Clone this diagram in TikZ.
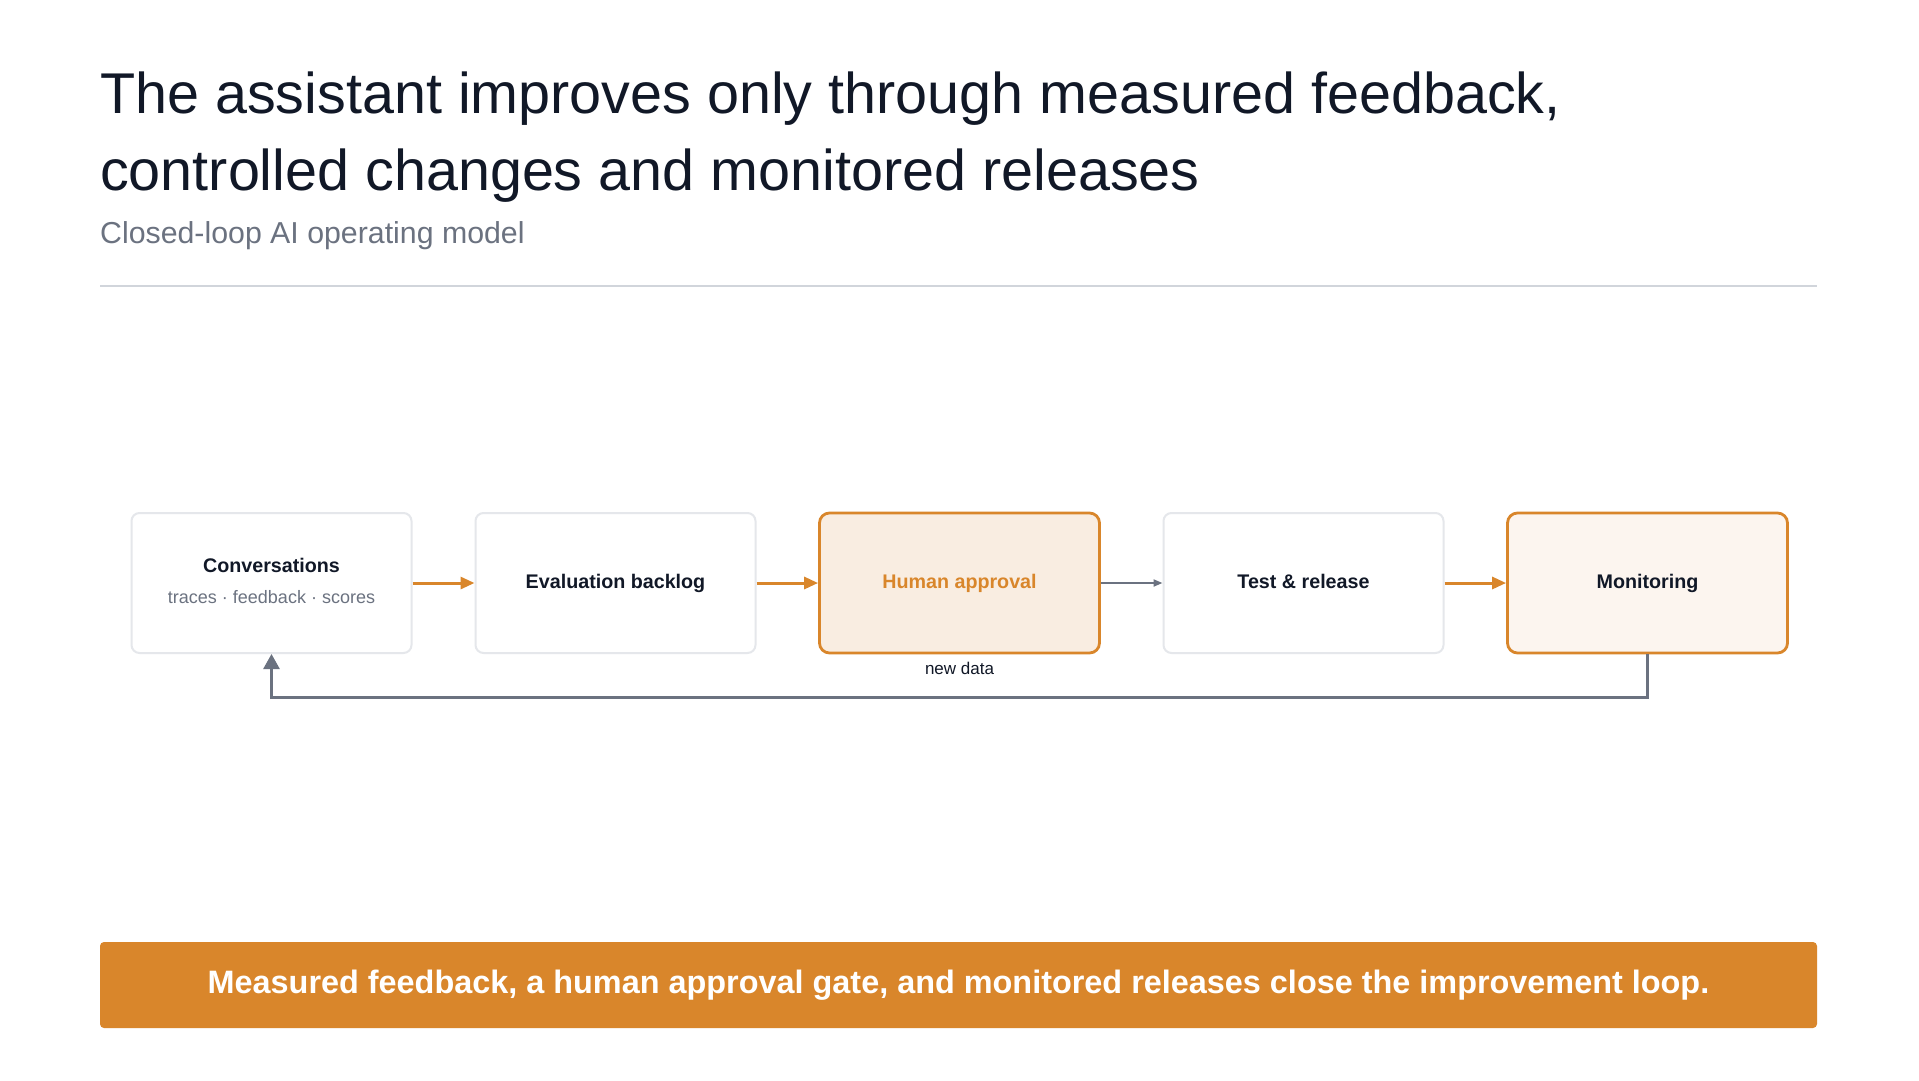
\documentclass[tikz,border=0pt]{standalone}
\usepackage{fontspec}
\setmainfont{Liberation Sans}
\usepackage{xcolor}
\usetikzlibrary{arrows.meta, positioning}
\definecolor{inkdark}{HTML}{111827}
\definecolor{inkgray}{HTML}{6B7280}
\definecolor{rulegray}{HTML}{D1D5DB}
\definecolor{boxgray}{HTML}{E5E7EB}
\definecolor{accent}{HTML}{D9862B}
\definecolor{gatefill}{HTML}{F9EDE1}
\definecolor{monfill}{HTML}{FCF5EF}

\begin{document}
\begin{tikzpicture}[
  x=1pt, y=-1pt,
  stage/.style={rectangle, rounded corners=8pt, draw=boxgray, line width=2pt, fill=white,
                minimum width=280pt, minimum height=140pt, inner sep=0pt, align=center,
                text=inkdark, font=\fontsize{19.7}{24}\selectfont\bfseries},
  hot/.style={stage, draw=accent, line width=2.8pt, rounded corners=10pt},
  arr/.style={-{Triangle[length=14pt, width=12pt]}, line width=3pt, accent},
  thinarr/.style={-{Triangle[length=9pt, width=7pt]}, line width=2pt, inkgray},
  looparr/.style={-{Triangle[length=15pt, width=16pt]}, line width=2.7pt, inkgray}
]
\useasboundingbox[fill=white] (0,0) rectangle (1919,1080);

% heading
\node[anchor=base west, align=left, inner sep=0pt, text=inkdark,
      font=\fontsize{57.5}{77}\selectfont] (title) at (100,190)
  {The assistant improves only through measured feedback,\\controlled changes and monitored releases};
\node[anchor=base west, inner sep=0pt, text=inkgray,
      font=\fontsize{30.3}{36}\selectfont] (subtitle) at (100,243) {Closed-loop AI operating model};
\draw[rulegray, line width=2pt] (100,286) -- (1817,286);

% stages
\node[stage] (conv) at (271.5,583)
  {\raisebox{3pt}{\begin{tabular}{@{}c@{}}Conversations\\[7pt]
   {\fontsize{18}{21}\selectfont\mdseries\color{inkgray}traces · feedback · scores}\end{tabular}}};
\node[stage] (evalb) at (615.5,583) {\raisebox{3pt}{Evaluation backlog}};
\node[hot, fill=gatefill, text=accent] (appr) at (959.5,583) {\raisebox{3pt}{Human approval}};
\node[stage] (test) at (1303.5,583) {\raisebox{3pt}{Test \& release}};
\node[hot, fill=monfill] (mon) at (1647.5,583) {\raisebox{3pt}{Monitoring}};

\draw[arr] (conv) -- (evalb);
\draw[arr] (evalb) -- (appr);
\draw[thinarr] (appr) -- (test);
\draw[arr] (test) -- (mon);

% feedback loop
\draw[looparr] (mon.south) -- ++(0,43) -| (conv.south);
\node[below=4pt of appr, text=inkdark, font=\fontsize{17}{20}\selectfont] (newdata) {new data};

% takeaway banner
\node[rectangle, rounded corners=4pt, fill=accent, minimum width=1717pt, minimum height=86pt,
      text=white, font=\fontsize{32.4}{38}\selectfont\bfseries] (takeaway) at (958.5,985)
  {Measured feedback, a human approval gate, and monitored releases close the improvement loop.};
\end{tikzpicture}
\end{document}
